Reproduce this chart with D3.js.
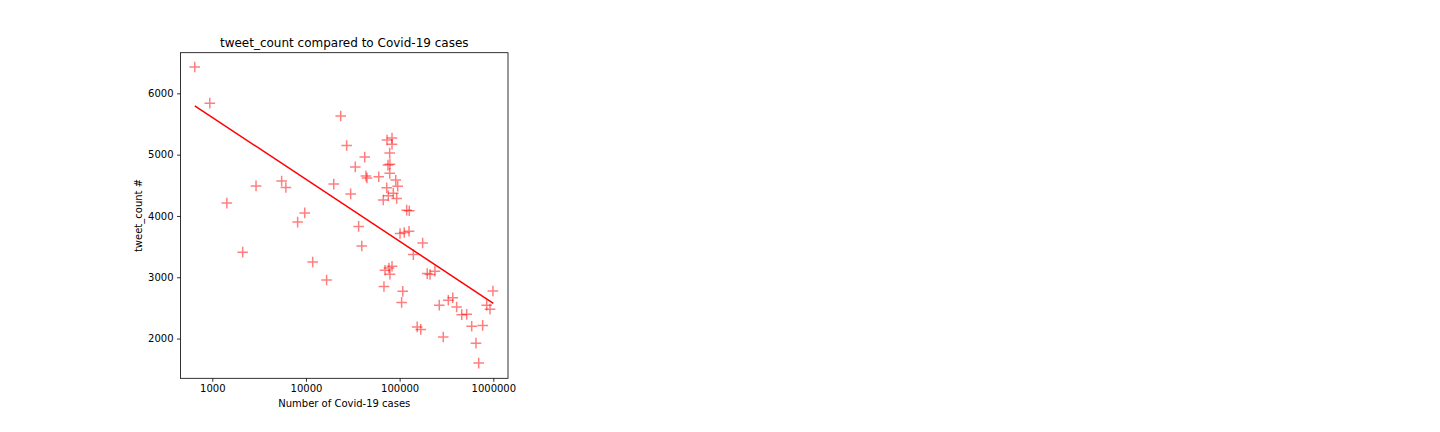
<!DOCTYPE html>
<html>
<head>
<meta charset="utf-8">
<script src="https://cdn.jsdelivr.net/npm/d3@7"></script>
<style>
  html, body { margin: 0; padding: 0; background: #fff; }
  svg { display: block; font-family: "DejaVu Sans", sans-serif; }
</style>
</head>
<body>
<svg id="chart" width="1440" height="432"></svg>
<script>
// ---- data ----
const cases = [650, 940, 1430, 2110, 2930, 5500, 6100, 8150, 9700, 11800,
  16600, 19800, 23500, 27200, 30000, 33600, 36500, 39400, 42400, 43700,
  44800, 59800, 66900, 68000, 69800, 73300, 82900, 82900, 78300, 75100,
  78800, 78300, 90800, 95300, 72800, 85600, 75700, 93000, 119000, 126800,
  101000, 112000, 126000, 176000, 140000, 76900, 82900, 78800, 108000, 105000,
  197000, 211000, 238000, 265000, 331000, 369000, 406000, 460000, 520000, 154000,
  168000, 292000, 588000, 770000, 653000, 698000, 990000, 850000, 922000];
const tweetCount = [6430, 5840, 4210, 3410, 4490, 4570, 4465, 3900, 4050, 3250,
  2955, 4520, 5630, 5150, 4360, 4800, 3830, 3510, 4960, 4650,
  4620, 4640, 4260, 2850, 3115, 5240, 5270, 5170, 5025, 4830,
  4845, 4695, 4585, 4485, 4460, 4370, 4330, 4285, 4095, 4085,
  3715, 3730, 3750, 3560, 3370, 3150, 3180, 3050, 2770, 2590,
  3060, 3045, 3100, 2545, 2625, 2665, 2515, 2390, 2395, 2190,
  2150, 2025, 2200, 2215, 1925, 1600, 2775, 2545, 2480];
const fitCases = [650, 1000000];
const fitTweetCount = [5797, 2576];
const xTicks = [1000, 10000, 100000, 1000000];
const yTicks = [2000, 3000, 4000, 5000, 6000];
const titleText = "tweet_count compared to Covid-19 cases";
const xLabel = "Number of Covid-19 cases";
const yLabel = "tweet_count #";

// ---- layout ----
const svg = d3.select("#chart");
const L = 180.5, R = 508, T = 52.7, B = 378.3;

const x = d3.scaleLog().domain([457.7, 1435000]).range([L, R]);
const y = d3.scaleLinear().domain([1352, 6663]).range([B, T]);

const g = svg.append("g");

// points
const pts = cases.map((c, i) => [c, tweetCount[i]]);
const half = 5.3;
const pg = g.append("g").attr("stroke", "red").attr("stroke-opacity", 0.5)
  .attr("stroke-width", 1.5);
pts.forEach(p => {
  const cx = x(p[0]), cy = y(p[1]);
  pg.append("path")
    .attr("d", `M${cx - half},${cy}H${cx + half}M${cx},${cy - half}V${cy + half}`);
});

// regression line
const line = d3.line().x(d => x(d[0])).y(d => y(d[1]));
g.append("path")
  .datum(fitCases.map((c, i) => [c, fitTweetCount[i]]))
  .attr("d", line)
  .attr("fill", "none")
  .attr("stroke", "red")
  .attr("stroke-width", 1.5);

// axes
const xAxis = d3.axisBottom(x).tickValues(xTicks).tickFormat(d3.format("d"))
  .tickSize(3.5).tickPadding(3.5);
const yAxis = d3.axisLeft(y).tickValues(yTicks).tickFormat(d3.format("d"))
  .tickSize(3.5).tickPadding(3.5);

const gx = svg.append("g").attr("transform", `translate(0,${B})`).call(xAxis);
const gy = svg.append("g").attr("transform", `translate(${L},0)`).call(yAxis);
[gx, gy].forEach(a => {
  a.select(".domain").remove();
  a.selectAll("text").attr("font-size", 10).attr("font-family", "DejaVu Sans").attr("fill", "#000");
  a.selectAll("line").attr("stroke", "#000").attr("stroke-width", 0.8);
});

// frame
svg.append("rect").attr("x", L).attr("y", T).attr("width", R - L).attr("height", B - T)
  .attr("fill", "none").attr("stroke", "#000").attr("stroke-width", 0.8);

// title & labels
svg.append("text").attr("x", (L + R) / 2).attr("y", T - 6).attr("text-anchor", "middle")
  .attr("font-size", 12).attr("fill", "#000").text(titleText);
svg.append("text").attr("x", (L + R) / 2).attr("y", 407).attr("text-anchor", "middle")
  .attr("font-size", 10).attr("fill", "#000").text(xLabel);
svg.append("text").attr("transform", `translate(142,${(T + B) / 2}) rotate(-90)`)
  .attr("text-anchor", "middle").attr("font-size", 10).attr("fill", "#000").text(yLabel);
</script>
</body>
</html>
